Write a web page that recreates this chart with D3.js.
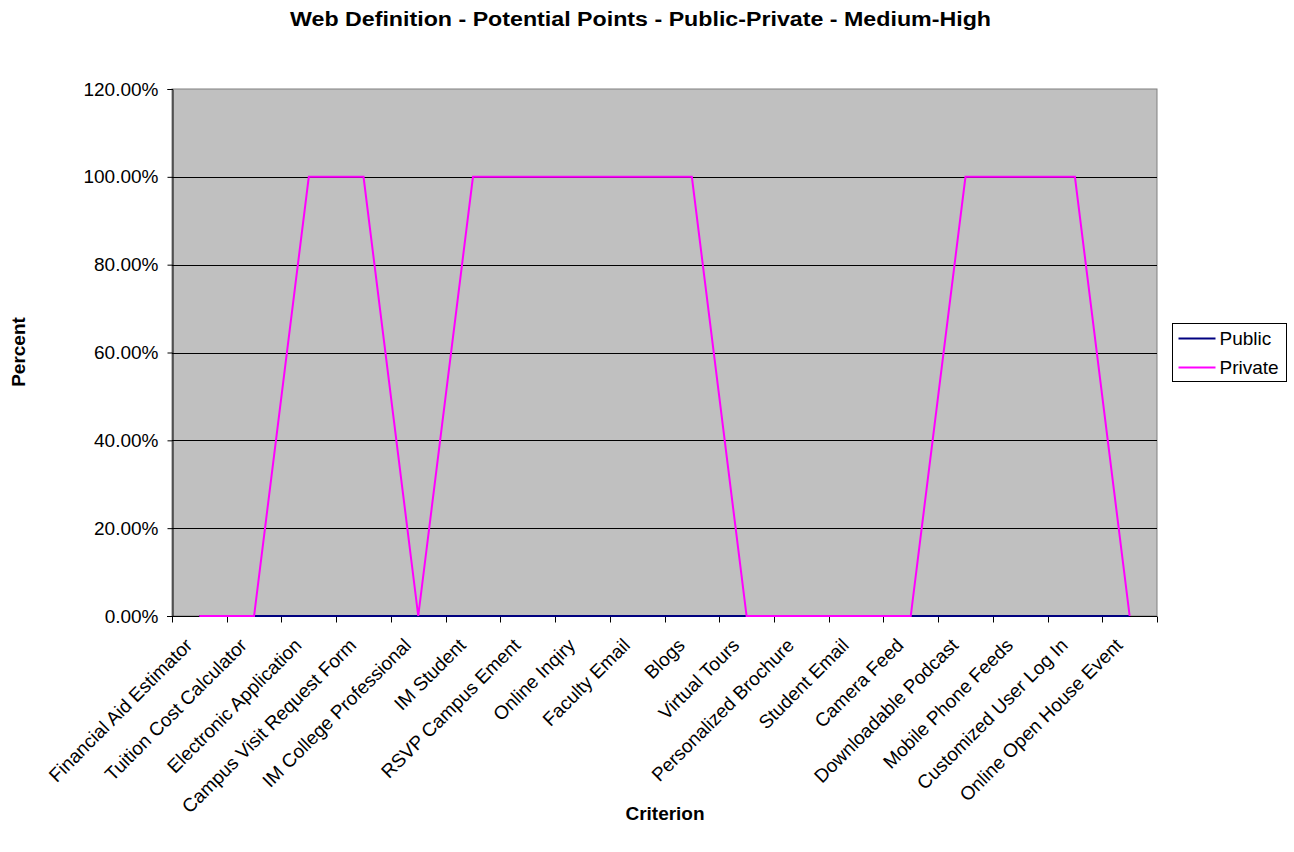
<!DOCTYPE html>
<html>
<head>
<meta charset="utf-8">
<script src="https://cdn.jsdelivr.net/npm/d3@7"></script>
<style>
  body { margin: 0; background: #fff; }
  svg { display: block; font-family: "Liberation Sans", Arial, sans-serif; }
</style>
</head>
<body>
<svg id="chart" width="1294" height="852"></svg>
<script>
// Criteria evaluated on each web site
const categories = [
  "Financial Aid Estimator", "Tuition Cost Calculator", "Electronic Application",
  "Campus Visit Request Form", "IM College Professional", "IM Student",
  "RSVP Campus Ement", "Online Inqiry", "Faculty Email", "Blogs",
  "Virtual Tours", "Personalized Brochure", "Student Email", "Camera Feed",
  "Downloadable Podcast", "Mobile Phone Feeds", "Customized User Log In",
  "Online Open House Event"
];
// Share of potential points (fraction)
const publicValues  = [0, 0, 0, 0, 0, 0, 0, 0, 0, 0, 0, 0, 0, 0, 0, 0, 0, 0];
const privateValues = [0, 0, 1, 1, 0, 1, 1, 1, 1, 1, 0, 0, 0, 0, 1, 1, 1, 0];
const yTicks = [0, 0.2, 0.4, 0.6, 0.8, 1.0, 1.2];

const series = [
  { name: "Public",  values: publicValues,  color: "#000080" },
  { name: "Private", values: privateValues, color: "#ff00ff" }
];

const svg = d3.select("#chart");
const m = { left: 172, right: 1157, top: 89, bottom: 616 };
const FONT = 19;

const x = d3.scaleBand().domain(categories).range([m.left, m.right]);
const y = d3.scaleLinear().domain([0, 1.2]).range([m.bottom, m.top]);
const fmt = d3.format(".2%");

// Plot area
svg.append("rect")
  .attr("x", m.left).attr("y", m.top)
  .attr("width", m.right - m.left).attr("height", m.bottom - m.top)
  .attr("fill", "#c0c0c0").attr("stroke", "#808080").attr("stroke-width", 1);

// Horizontal gridlines
svg.append("g").selectAll("line")
  .data(yTicks.filter(d => d > 0 && d < 1.2))
  .join("line")
  .attr("x1", m.left).attr("x2", m.right)
  .attr("y1", d => Math.round(y(d)) + 0.5).attr("y2", d => Math.round(y(d)) + 0.5)
  .attr("stroke", "#000").attr("stroke-width", 1);

// Y axis
const yAxis = svg.append("g")
  .attr("transform", `translate(${m.left + 0.5},0)`)
  .call(d3.axisLeft(y).tickValues(yTicks).tickFormat(fmt).tickSize(5).tickPadding(9));
yAxis.select(".domain").attr("stroke", "#000");
yAxis.selectAll(".tick line").attr("stroke", "#000");
yAxis.selectAll("text").attr("font-size", FONT).attr("fill", "#000")
  .attr("font-family", "Liberation Sans, Arial, sans-serif");

// X axis: ticks at category boundaries
const xAxisG = svg.append("g").attr("transform", `translate(0,${m.bottom + 0.5})`);
xAxisG.append("line")
  .attr("x1", m.left - 5).attr("x2", m.right)
  .attr("stroke", "#000");
const boundaries = d3.range(categories.length + 1).map(i => m.left + i * x.step());
xAxisG.selectAll("line.tick")
  .data(boundaries)
  .join("line").attr("class", "tick")
  .attr("x1", d => Math.round(d) + 0.5).attr("x2", d => Math.round(d) + 0.5)
  .attr("y1", 0).attr("y2", 6)
  .attr("stroke", "#000");

// Rotated category labels
xAxisG.selectAll("text")
  .data(categories)
  .join("text")
  .attr("text-anchor", "end")
  .attr("font-size", FONT)
  .attr("fill", "#000")
  .attr("transform", d => `translate(${x(d) + x.bandwidth() / 2 - 6},${30}) rotate(-45)`)
  .text(d => d);

// Lines
const line = d3.line()
  .x((d, i) => x(categories[i]) + x.bandwidth() / 2)
  .y(d => y(d));

svg.append("g").selectAll("path")
  .data(series)
  .join("path")
  .attr("d", s => line(s.values))
  .attr("fill", "none")
  .attr("stroke", s => s.color)
  .attr("stroke-width", 2);

// Title
svg.append("text")
  .attr("x", 290).attr("y", 26)
  .attr("font-size", 20).attr("font-weight", "bold")
  .attr("textLength", 701).attr("lengthAdjust", "spacingAndGlyphs")
  .text("Web Definition - Potential Points - Public-Private - Medium-High");

// Axis titles
svg.append("text")
  .attr("transform", "translate(25,352) rotate(-90)")
  .attr("text-anchor", "middle")
  .attr("font-size", FONT).attr("font-weight", "bold")
  .text("Percent");

svg.append("text")
  .attr("x", 665).attr("y", 820)
  .attr("text-anchor", "middle")
  .attr("font-size", FONT).attr("font-weight", "bold")
  .text("Criterion");

// Legend
const legend = svg.append("g").attr("transform", "translate(1172.5,323.5)");
legend.append("rect")
  .attr("width", 114).attr("height", 58)
  .attr("fill", "#fff").attr("stroke", "#000");
series.forEach((s, i) => {
  const ly = 15 + i * 29;
  legend.append("line")
    .attr("x1", 6).attr("x2", 43).attr("y1", ly).attr("y2", ly)
    .attr("stroke", s.color).attr("stroke-width", 2);
  legend.append("text")
    .attr("x", 47).attr("y", ly).attr("dy", "0.35em")
    .attr("font-size", FONT)
    .text(s.name);
});
</script>
</body>
</html>
